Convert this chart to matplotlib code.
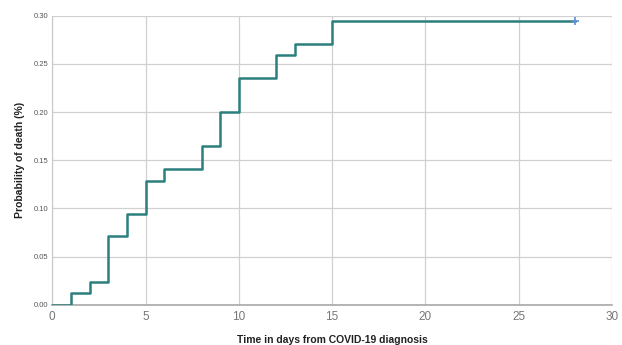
import matplotlib
matplotlib.use('Agg')
import matplotlib.pyplot as plt
from matplotlib import rcParams

# Cumulative probability of death by day (Kaplan-Meier style, 1 - survival)
days = [0, 1, 2, 3, 4, 5, 6, 8, 9, 10, 12, 13, 15, 28]
prob = [0.000, 0.012, 0.024, 0.071, 0.094, 0.129, 0.141, 0.165, 0.200,
        0.235, 0.259, 0.271, 0.294, 0.294]
censor_day = [28]
censor_prob = [0.294]

x_ticks = [0, 5, 10, 15, 20, 25, 30]
y_ticks = [0.00, 0.05, 0.10, 0.15, 0.20, 0.25, 0.30]

rcParams['font.family'] = ['Liberation Sans', 'DejaVu Sans']

fig = plt.figure(figsize=(6.22, 3.45), dpi=100)
ax = fig.add_axes([0.084, 0.116, 0.9, 0.839])

# Survival-style step curve
ax.step(days, prob, where='post', color='#2b7f7c', linewidth=1.8, zorder=3)
ax.plot(censor_day, censor_prob, marker='+', color='#5b8fd8',
        markersize=6, markeredgewidth=1.2, linestyle='none', zorder=4)

ax.set_xlim(0, 30)
ax.set_ylim(0, 0.30)
ax.set_xticks(x_ticks)
ax.set_yticks(y_ticks)
ax.set_yticklabels(['%.2f' % v for v in y_ticks])
ax.tick_params(axis='x', length=0, labelsize=8.5, colors='#777777', pad=4)
ax.tick_params(axis='y', length=0, labelsize=5.5, colors='#555555', pad=3)

ax.grid(True, color='#d0d0d0', linewidth=0.9)
ax.set_axisbelow(True)
for side in ['top', 'right']:
    ax.spines[side].set_visible(False)
ax.spines['left'].set_color('#c8c8c8')
ax.spines['bottom'].set_color('#a8a8a8')
ax.spines['bottom'].set_linewidth(1.2)

ax.set_xlabel('Time in days from COVID-19 diagnosis', fontsize=7.5,
              fontweight='bold', color='#222222', labelpad=9)
ax.set_ylabel('Probability of death (%)', fontsize=7.5,
              fontweight='bold', color='#222222', labelpad=6)

fig.savefig('out.png', dpi=100)
